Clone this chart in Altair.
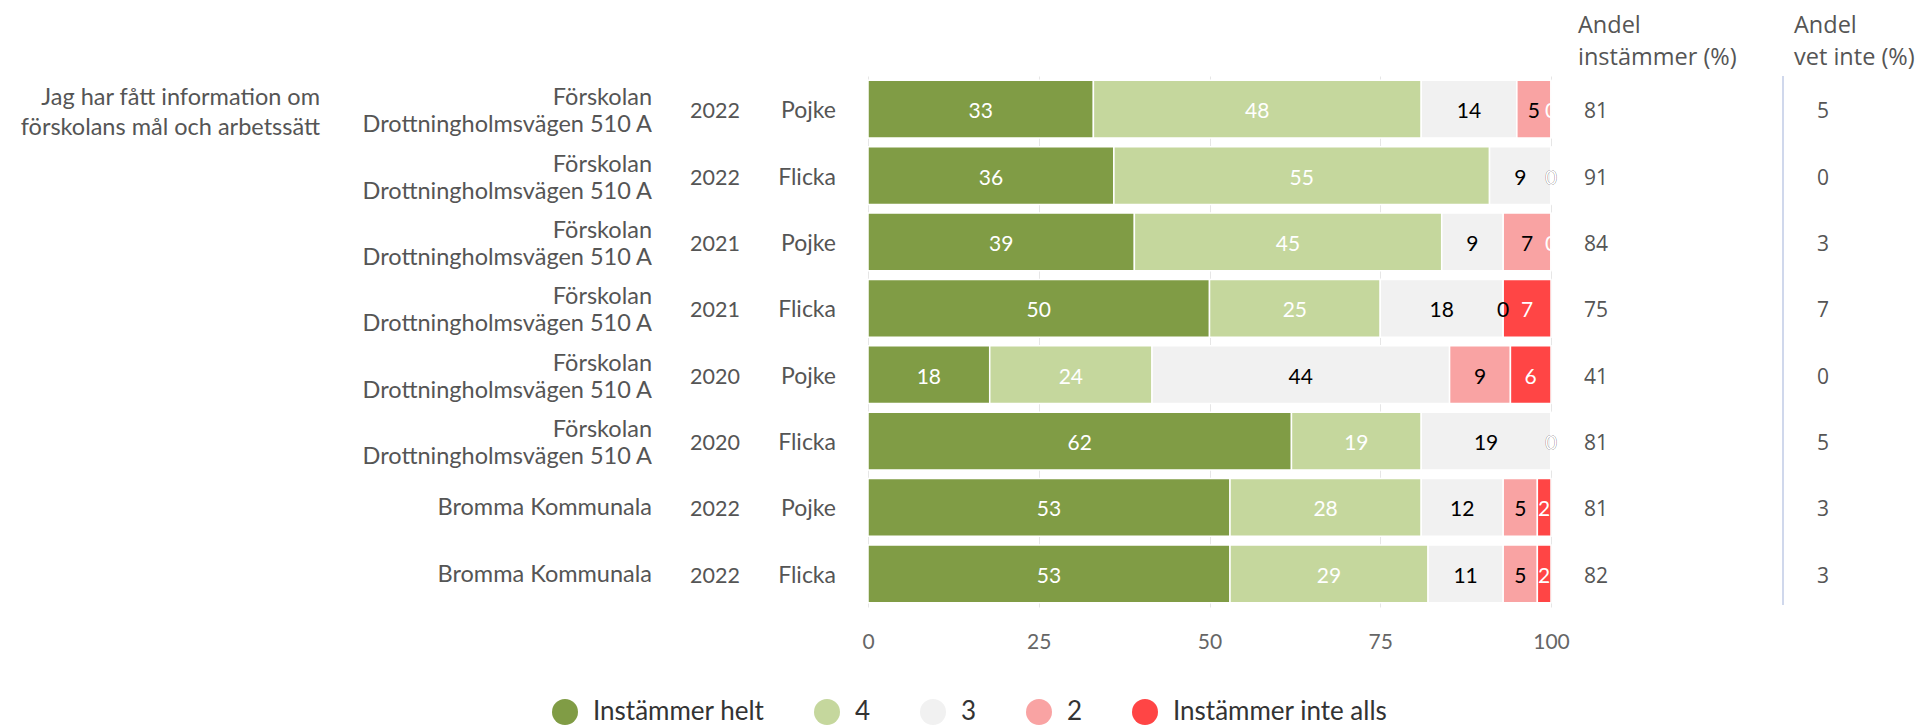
import altair as alt
import pandas as pd

# ---------------- data ----------------
question = ["Jag har fått information om\nförskolans mål och arbetssätt"]
schools = ["Förskolan\nDrottningholmsvägen 510 A"] * 6 + ["Bromma Kommunala"] * 2
years = ["2022", "2022", "2021", "2021", "2020", "2020", "2022", "2022"]
genders = ["Pojke", "Flicka", "Pojke", "Flicka", "Pojke", "Flicka", "Pojke", "Flicka"]
categories = ["Instämmer helt", "4", "3", "2", "Instämmer inte alls"]
cat_colors = ["#809c45", "#c5d79d", "#f1f1f1", "#f9a3a3", "#ff4545"]

v_helt = [33, 36, 39, 50, 18, 62, 53, 53]
v_4 = [48, 55, 45, 25, 24, 19, 28, 29]
v_3 = [14, 9, 9, 18, 44, 19, 12, 11]
v_2 = [5, 0, 7, 0, 9, 0, 5, 5]
v_inte = [0, 0, 0, 7, 6, 0, 2, 2]

andel_instammer = [81, 91, 84, 75, 41, 81, 81, 82]
andel_vet_inte = [5, 0, 3, 7, 0, 5, 3, 3]

headers = ["Andel\ninstämmer (%)", "Andel\nvet inte (%)"]
x_ticks = [0, 25, 50, 75, 100]

# ---------------- tables ----------------
series = [v_helt, v_4, v_3, v_2, v_inte]
row_ids = list(range(len(years)))
bars = pd.DataFrame([
    {"row": r, "cat": categories[k], "order": k, "value": series[k][r]}
    for r in row_ids for k in range(len(categories))
])
rows = pd.DataFrame({
    "row": row_ids, "school": schools, "year": years, "gender": genders,
    "inst": andel_instammer, "vet": andel_vet_inte,
    "multi": [1 if "\n" in s else 0 for s in schools],
})
qdf = pd.DataFrame({"row": [0], "q": question})
hdf = pd.DataFrame({"h": headers})

W, H = 683, 531
LBL_FONT = "Lato"
SIDE_FONT = "Open Sans"
GREY = "#555555"

x_axis = alt.Axis(values=x_ticks, title=None, grid=True, gridColor="#e6e6e6",
                  domain=False, ticks=False, labelPadding=24, labelFontSize=21,
                  labelColor="#666666", labelFont=LBL_FONT, labelFlush=False)
x_scale = alt.Scale(domain=[0, 100], nice=False)

yenc = alt.Y("row:O", sort=row_ids,
             scale=alt.Scale(paddingInner=0.13, paddingOuter=0.065),
             axis=alt.Axis(title=None, labels=False, domain=True, domainColor="#ccd6eb",
                           domainWidth=1.5, ticks=True, tickBand="extent", tickSize=12,
                           tickColor="#ccd6eb", tickWidth=1.5, grid=False))
yplain = alt.Y("row:O", sort=row_ids, axis=None)

base = alt.Chart(bars).transform_joinaggregate(
    total="sum(value)", groupby=["row"]
).transform_calculate(
    pct="100 * datum.value / datum.total"
).transform_stack(
    stack="pct", as_=["x0", "x1"], groupby=["row"], sort=[alt.SortField("order", "ascending")]
).transform_calculate(
    mid="(datum.x0 + datum.x1) / 2",
    tcolor="(datum.order == 2 || datum.order == 3) ? 'black' : 'white'",
)

bar_layer = base.mark_bar(stroke="white", strokeWidth=1.5).encode(
    x=alt.X("x0:Q", scale=x_scale, axis=x_axis),
    x2="x1:Q",
    y=yenc,
    color=alt.Color("cat:N", sort=categories,
                    scale=alt.Scale(domain=categories, range=cat_colors),
                    legend=alt.Legend(title=None, orient="none", direction="horizontal",
                                      legendX=-316, legendY=623, symbolType="circle",
                                      symbolSize=676, symbolStrokeWidth=0,
                                      labelFont=LBL_FONT, labelFontSize=26, labelLimit=400,
                                      labelColor="#333333", labelOffset=15,
                                      columnPadding=49, padding=0)),
)

label_layer = base.mark_text(font=LBL_FONT, fontSize=21, baseline="middle", align="center",
                             dy=3).encode(
    x=alt.X("mid:Q", scale=x_scale, axis=x_axis),
    y=yplain,
    text=alt.Text("value:Q"),
    color=alt.Color("tcolor:N", scale=None, legend=None),
)

rbase = alt.Chart(rows)
school_multi = rbase.transform_filter("datum.multi == 1").mark_text(
    font=LBL_FONT, fontSize=23.5, align="right", baseline="middle",
    lineBreak="\n", lineHeight=27, color=GREY, dy=-11).encode(
    x=alt.value(-216), y=yplain, text="school:N")
school_single = rbase.transform_filter("datum.multi == 0").mark_text(
    font=LBL_FONT, fontSize=23.5, align="right", baseline="middle",
    color=GREY, dy=1).encode(
    x=alt.value(-216), y=yplain, text="school:N")
year_layer = rbase.mark_text(font=LBL_FONT, fontSize=21.5, align="right", baseline="middle",
                             color=GREY, dy=3).encode(x=alt.value(-128), y=yplain, text="year:N")
gender_layer = rbase.mark_text(font=LBL_FONT, fontSize=23, align="right", baseline="middle",
                               color=GREY, dy=2).encode(x=alt.value(-32), y=yplain, text="gender:N")
question_layer = alt.Chart(qdf).mark_text(font=LBL_FONT, fontSize=23.5, align="right",
                                          baseline="middle", lineBreak="\n", lineHeight=30,
                                          color=GREY, dy=-11).encode(
    x=alt.value(-548), y=yplain, text="q:N")

inst_layer = rbase.mark_text(font=SIDE_FONT, fontSize=21, align="left", baseline="middle",
                             color=GREY, dy=3).encode(x=alt.value(W + 33), y=yplain, text="inst:Q")
vet_layer = rbase.mark_text(font=SIDE_FONT, fontSize=21, align="left", baseline="middle",
                            color=GREY, dy=3).encode(x=alt.value(W + 266), y=yplain, text="vet:Q")

sep_layer = alt.Chart(hdf).mark_rule(color="#ccd6eb", strokeWidth=1.5).encode(
    x=alt.value(W + 232), y=alt.value(0), y2=alt.value(H - 2))

header_layer = alt.Chart(hdf).transform_window(idx="row_number()").transform_calculate(
    hx=f"datum.idx == 1 ? {W + 27} : {W + 243}"
).mark_text(font=SIDE_FONT, fontSize=23.5, align="left", baseline="middle", lineBreak="\n",
            lineHeight=32, color=GREY).encode(
    x=alt.X("hx:Q", scale=None, axis=None), y=alt.value(-50), text="h:N")

chart = alt.layer(
    bar_layer, label_layer, school_multi, school_single, year_layer, gender_layer,
    question_layer, inst_layer, vet_layer, sep_layer, header_layer,
).properties(
    width=W, height=H,
    autosize=alt.AutoSizeParams(type="none"),
    padding={"left": 860, "top": 68, "right": 366, "bottom": 119},
).configure_view(stroke=None)

chart.save("out.html", embed_options={"renderer": "svg", "actions": False})
